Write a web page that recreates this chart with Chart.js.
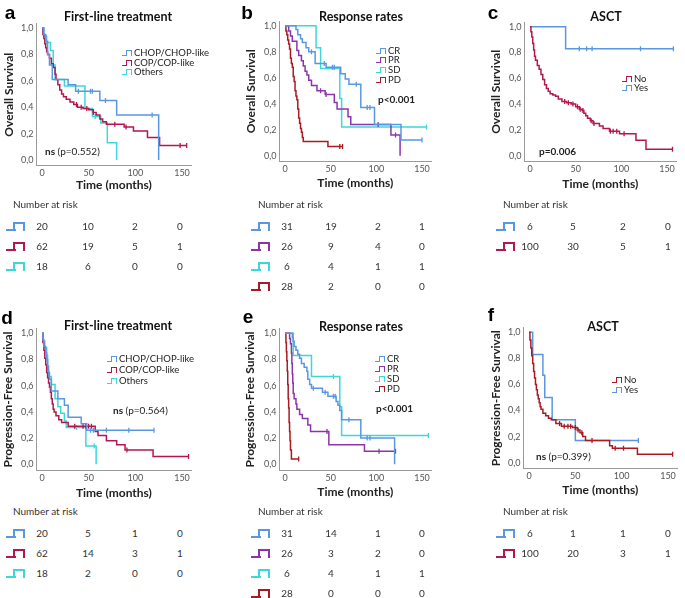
<!DOCTYPE html>
<html>
<head>
<meta charset="utf-8">
<script src="https://cdn.jsdelivr.net/npm/chart.js@4.4.1/dist/chart.umd.min.js"></script>
<style>
  body { margin: 0; background: #fff; font-family: Lato, "Open Sans", sans-serif; }
  #fig { position: relative; width: 685px; height: 598px; overflow: hidden; }
  #fig canvas { position: absolute; }
  .lbl { position: absolute; white-space: nowrap; color: #222; line-height: 1; }
  .letter { font-family: "Liberation Sans", Arial, sans-serif; font-weight: bold; font-size: 19px; color: #000; }
  .title { font-weight: bold; font-size: 12.5px; color: #111; }
  .leg { font-size: 9.5px; color: #222; }
  .pval { font-size: 10px; color: #222; }
  .risk { font-size: 10px; color: #333; }
  .ico { position: absolute; box-sizing: border-box; }
  .ico .foot, .ico .cap { position: absolute; box-sizing: border-box; }
</style>
</head>
<body>
<div id="fig"></div>
<script>
// colours
const BLUE = '#5a97e3', CRIMSON = '#b4174f', RED = '#aa1a22', CYAN = '#3dd7d9', PURPLE = '#8b36a8';

// axis ticks
const xTicks = [0, 50, 100, 150];
const yTicks = [0, 0.2, 0.4, 0.6, 0.8, 1.0];

// a) OS by first-line treatment (time in months, survival, censor times)
const osChopT = [0, 2, 4, 6, 8, 11, 28, 36, 62, 80, 125];
const osChopS = [1, 0.95, 0.9, 0.8, 0.72, 0.61, 0.57, 0.52, 0.45, 0.34, 0];
const osChopC = [39, 52, 54, 68, 118];
const osCopT = [0, 1, 2, 3, 4, 5, 6, 8, 10, 12, 14, 15, 17, 19, 21, 23, 26, 30, 34, 38, 44, 50, 55, 58, 62, 65, 69, 88, 98, 113, 126];
const osCopS = [1, 0.95, 0.92, 0.88, 0.85, 0.82, 0.8, 0.77, 0.73, 0.7, 0.65, 0.61, 0.57, 0.53, 0.5, 0.48, 0.46, 0.44, 0.42, 0.4, 0.39, 0.38, 0.36, 0.34, 0.31, 0.29, 0.27, 0.25, 0.22, 0.17, 0.11];
const osCopC = [37, 42, 48, 55, 78, 90, 148, 155];
const osOthT = [0, 2, 5, 9, 12, 14, 24, 46, 54, 63, 70, 80];
const osOthS = [1, 0.94, 0.89, 0.83, 0.72, 0.61, 0.56, 0.39, 0.33, 0.28, 0.13, 0];
const osOthC = [57];

// b) OS by response
const osCrT = [0, 12, 14, 17, 19, 23, 26, 33, 45, 61, 66, 70, 83, 98, 127];
const osCrS = [1, 0.97, 0.93, 0.9, 0.87, 0.83, 0.8, 0.71, 0.68, 0.63, 0.59, 0.55, 0.37, 0.24, 0.12];
const osCrC = [29, 43, 52, 54, 78, 90, 93, 150];
const osPrT = [0, 4, 6, 8, 13, 15, 18, 20, 22, 24, 26, 29, 35, 44, 54, 57, 69, 72, 116, 126];
const osPrS = [1, 0.96, 0.92, 0.88, 0.81, 0.77, 0.73, 0.69, 0.65, 0.62, 0.58, 0.54, 0.5, 0.47, 0.41, 0.36, 0.3, 0.24, 0.16, 0];
const osPrC = [39, 45, 102, 121];
const osSdT = [0, 34, 39, 60, 62];
const osSdS = [1, 0.83, 0.67, 0.44, 0.22];
const osSdC = [155];
const osPdT = [0, 1, 2, 3, 4, 5, 6, 7, 8, 9, 10, 11, 12, 13, 14, 15, 16, 17, 18, 19, 20, 47];
const osPdS = [1, 0.96, 0.93, 0.89, 0.86, 0.82, 0.75, 0.71, 0.68, 0.61, 0.57, 0.5, 0.46, 0.43, 0.36, 0.29, 0.25, 0.21, 0.18, 0.14, 0.11, 0.07];
const osPdC = [60, 63];

// c) OS by ASCT
const osYesT = [0, 39];
const osYesS = [1, 0.83];
const osYesC = [54, 62, 68, 121, 157];
const osNoT = [0, 1, 2, 3, 4, 5, 6, 8, 10, 12, 14, 16, 18, 20, 22, 25, 28, 31, 35, 40, 45, 50, 54, 57, 59, 61, 63, 66, 69, 76, 80, 87, 98, 116, 127];
const osNoS = [1, 0.96, 0.92, 0.87, 0.82, 0.77, 0.74, 0.7, 0.67, 0.63, 0.59, 0.55, 0.52, 0.5, 0.48, 0.47, 0.46, 0.44, 0.42, 0.41, 0.4, 0.38, 0.36, 0.35, 0.33, 0.31, 0.29, 0.27, 0.25, 0.23, 0.21, 0.19, 0.17, 0.12, 0.05];
const osNoC = [38, 42, 47, 52, 55, 58, 67, 70, 88, 91, 95, 103, 156];

// d) PFS by first-line treatment
const pfsChopT = [0, 1, 2, 4, 5, 6, 7, 8, 10, 17, 24, 28, 42, 48];
const pfsChopS = [1, 0.95, 0.9, 0.85, 0.8, 0.75, 0.7, 0.65, 0.56, 0.5, 0.45, 0.36, 0.31, 0.26];
const pfsChopC = [52, 55, 69, 93, 120];
const pfsCopT = [0, 1, 2, 3, 4, 5, 6, 7, 8, 9, 10, 11, 12, 13, 15, 18, 21, 28, 57, 60, 69, 80, 89, 119];
const pfsCopS = [1, 0.93, 0.87, 0.81, 0.76, 0.7, 0.66, 0.62, 0.59, 0.55, 0.5, 0.46, 0.42, 0.4, 0.37, 0.34, 0.32, 0.29, 0.25, 0.22, 0.18, 0.15, 0.11, 0.06];
const pfsCopC = [35, 44, 47, 50, 53, 91, 157];
const pfsOthT = [0, 1, 3, 5, 6, 7, 10, 14, 17, 20, 24, 26, 47, 58];
const pfsOthS = [1, 0.94, 0.89, 0.83, 0.72, 0.67, 0.61, 0.5, 0.44, 0.39, 0.33, 0.28, 0.14, 0];
const pfsOthC = [37, 56];

// e) PFS by response
const pfsCrT = [0, 8, 9, 10, 12, 14, 16, 18, 21, 24, 25, 27, 29, 41, 47, 56, 58, 60, 62, 83, 120];
const pfsCrS = [1, 0.97, 0.94, 0.9, 0.87, 0.84, 0.81, 0.77, 0.74, 0.71, 0.65, 0.61, 0.58, 0.55, 0.52, 0.48, 0.45, 0.41, 0.34, 0.2, 0];
const pfsCrC = [31, 44, 53, 55, 70, 90, 93];
const pfsPrT = [0, 5, 6, 7, 7.5, 8, 8.5, 9, 10, 12, 13, 16, 19, 25, 28, 48, 87];
const pfsPrS = [1, 0.96, 0.92, 0.85, 0.77, 0.69, 0.62, 0.54, 0.5, 0.46, 0.42, 0.38, 0.35, 0.3, 0.25, 0.15, 0.1];
const pfsPrC = [46, 103, 121];
const pfsSdT = [0, 9, 29, 60, 62];
const pfsSdS = [1, 0.83, 0.67, 0.44, 0.22];
const pfsSdC = [53, 157];
const pfsPdT = [0, 1, 1.5, 2, 2.5, 3, 3.5, 4, 4.5, 5, 5.5, 6, 7];
const pfsPdS = [1, 0.93, 0.86, 0.79, 0.71, 0.61, 0.5, 0.43, 0.32, 0.25, 0.18, 0.11, 0.04];
const pfsPdC = [15];

// f) PFS by ASCT
const pfsYesT = [0, 4, 15, 17, 25, 50];
const pfsYesS = [1, 0.83, 0.67, 0.5, 0.33, 0.17];
const pfsYesC = [118];
const pfsNoT = [0, 1, 2, 3, 4, 5, 6, 7, 8, 9, 10, 11, 12, 13, 15, 18, 21, 24, 29, 35, 47, 52, 55, 58, 61, 87, 90, 117];
const pfsNoS = [1, 0.94, 0.88, 0.82, 0.76, 0.7, 0.65, 0.6, 0.56, 0.52, 0.49, 0.46, 0.43, 0.41, 0.38, 0.36, 0.34, 0.33, 0.3, 0.28, 0.27, 0.25, 0.23, 0.2, 0.17, 0.13, 0.11, 0.065];
const pfsNoC = [33, 38, 42, 45, 50, 53, 57, 68, 93, 102, 155];

// numbers at risk (at 0, 50, 100, 150 months)
const riskOsChop = [20, 10, 2, 0], riskOsCop = [62, 19, 5, 1], riskOsOth = [18, 6, 0, 0];
const riskOsCr = [31, 19, 2, 1], riskOsPr = [26, 9, 4, 0], riskOsSd = [6, 4, 1, 1], riskOsPd = [28, 2, 0, 0];
const riskOsYes = [6, 5, 2, 0], riskOsNo = [100, 30, 5, 1];
const riskPfsChop = [20, 5, 1, 0], riskPfsCop = [62, 14, 3, 1], riskPfsOth = [18, 2, 0, 0];
const riskPfsCr = [31, 14, 1, 0], riskPfsPr = [26, 3, 2, 0], riskPfsSd = [6, 4, 1, 1], riskPfsPd = [28, 0, 0, 0];
const riskPfsYes = [6, 1, 1, 0], riskPfsNo = [100, 20, 3, 1];

const X_MIN = -6, X_MAX = 160, Y_MIN = -0.045, Y_MAX = 1.035;
Chart.defaults.font.family = 'Lato, "Open Sans", sans-serif';

const fig = document.getElementById('fig');

function addText(html, x, y, cls, center) {
  const d = document.createElement('div');
  d.className = 'lbl ' + cls;
  d.innerHTML = html;
  d.style.left = x + 'px';
  d.style.top = y + 'px';
  d.style.transform = center ? 'translate(-50%,-50%)' : 'translateY(-50%)';
  fig.appendChild(d);
}

// little step-shaped key like the SPSS legend
function addIcon(x, y, w, h, lw, color) {
  const d = document.createElement('div');
  d.className = 'ico';
  d.style.cssText = `left:${x}px;top:${y - h / 2}px;width:${w}px;height:${h}px;`;
  const foot = document.createElement('div');
  foot.className = 'foot';
  foot.style.cssText = `left:0;bottom:0;width:${w * 0.45 + lw / 2}px;border-bottom:${lw}px solid ${color};`;
  const cap = document.createElement('div');
  cap.className = 'cap';
  cap.style.cssText = `left:${w * 0.45 - lw / 2}px;top:0;right:0;bottom:0;border:${lw}px solid ${color};border-bottom:none;`;
  d.appendChild(foot);
  d.appendChild(cap);
  fig.appendChild(d);
}

function survAt(T, S, t) {
  let v = S[0];
  for (let i = 0; i < T.length; i++) if (T[i] <= t) v = S[i];
  return v;
}

function curvePoints(T, S, C) {
  const pts = T.map((t, i) => ({ x: t, y: S[i] }));
  const end = Math.max(T[T.length - 1], ...C);
  if (end > T[T.length - 1]) pts.push({ x: end, y: S[S.length - 1] });
  return pts;
}

const panels = [
  { letter: 'a', lx: 10, ly: 12, left: 0, top: 0, x0: 42, x150: 182, y1: 28, y0: 160, yTitle: 'Overall Survival', yTitleX: 9, xTitleY: 185,
    title: 'First-line treatment', tx: 118, ty: 17,
    series: [[osChopT, osChopS, osChopC, BLUE], [osCopT, osCopS, osCopC, CRIMSON], [osOthT, osOthS, osOthC, CYAN]],
    legend: { x: 122, ys: [53, 62.5, 72], names: ['CHOP/CHOP-like', 'COP/COP-like', 'Others'], colors: [BLUE, CRIMSON, CYAN] },
    pv: { html: '<b>ns</b> (p=0.552)', x: 45, y: 151 },
    risk: { x: 6, top: 204, rows: [riskOsChop, riskOsCop, riskOsOth], colors: [BLUE, CRIMSON, CYAN], cols: [42, 88, 135, 180] } },
  { letter: 'b', lx: 247, ly: 12, left: 228, top: 0, x0: 285, x150: 422, y1: 25.7, y0: 155.7, yTitle: 'Overall Survival', yTitleX: 251, xTitleY: 183,
    title: 'Response rates', tx: 361, ty: 17,
    series: [[osCrT, osCrS, osCrC, BLUE], [osPrT, osPrS, osPrC, PURPLE], [osSdT, osSdS, osSdC, CYAN], [osPdT, osPdS, osPdC, RED]],
    legend: { x: 376, ys: [50.7, 60.3, 70, 79.7], names: ['CR', 'PR', 'SD', 'PD'], colors: [BLUE, PURPLE, CYAN, RED] },
    pv: { html: '<b>p&lt;0.001</b>', x: 378, y: 99 },
    risk: { x: 251, top: 204, rows: [riskOsCr, riskOsPr, riskOsSd, riskOsPd], colors: [BLUE, PURPLE, CYAN, RED], cols: [287, 331, 378, 422] } },
  { letter: 'c', lx: 493, ly: 12, left: 456, top: 0, x0: 530, x150: 667, y1: 26.7, y0: 155.7, yTitle: 'Overall Survival', yTitleX: 496, xTitleY: 184,
    title: 'ASCT', tx: 606, ty: 17,
    series: [[osNoT, osNoS, osNoC, CRIMSON], [osYesT, osYesS, osYesC, BLUE]],
    legend: { x: 622, ys: [79, 87.7], names: ['No', 'Yes'], colors: [CRIMSON, BLUE] },
    pv: { html: '<b>p=0.006</b>', x: 539, y: 151 },
    risk: { x: 496, top: 204, rows: [riskOsYes, riskOsNo], colors: [BLUE, CRIMSON], cols: [530, 573, 623, 668] } },
  { letter: 'd', lx: 7, ly: 317, left: 0, top: 300, x0: 42, x150: 182, y1: 333.3, y0: 464.3, yTitle: 'Progression-Free Survival', yTitleX: 8, xTitleY: 493,
    title: 'First-line treatment', tx: 118, ty: 326,
    series: [[pfsChopT, pfsChopS, pfsChopC, BLUE], [pfsCopT, pfsCopS, pfsCopC, CRIMSON], [pfsOthT, pfsOthS, pfsOthC, CYAN]],
    legend: { x: 107, ys: [359.3, 370, 380.7], names: ['CHOP/CHOP-like', 'COP/COP-like', 'Others'], colors: [BLUE, CRIMSON, CYAN] },
    pv: { html: '<b>ns</b> (p=0.564)', x: 113, y: 410 },
    risk: { x: 6, top: 511, rows: [riskPfsChop, riskPfsCop, riskPfsOth], colors: [BLUE, CRIMSON, CYAN], cols: [42, 88, 135, 180] } },
  { letter: 'e', lx: 248, ly: 316, left: 228, top: 300, x0: 285, x150: 422, y1: 333.3, y0: 464.3, yTitle: 'Progression-Free Survival', yTitleX: 250, xTitleY: 492,
    title: 'Response rates', tx: 361, ty: 327,
    series: [[pfsCrT, pfsCrS, pfsCrC, BLUE], [pfsPrT, pfsPrS, pfsPrC, PURPLE], [pfsSdT, pfsSdS, pfsSdC, CYAN], [pfsPdT, pfsPdS, pfsPdC, RED]],
    legend: { x: 375, ys: [359.3, 369, 379, 389.3], names: ['CR', 'PR', 'SD', 'PD'], colors: [BLUE, PURPLE, CYAN, RED] },
    pv: { html: '<b>p&lt;0.001</b>', x: 376, y: 408 },
    risk: { x: 251, top: 511, rows: [riskPfsCr, riskPfsPr, riskPfsSd, riskPfsPd], colors: [BLUE, PURPLE, CYAN, RED], cols: [287, 331, 378, 422] } },
  { letter: 'f', lx: 491, ly: 314, left: 456, top: 300, x0: 529, x150: 668, y1: 332.3, y0: 462.7, yTitle: 'Progression-Free Survival', yTitleX: 496, xTitleY: 490,
    title: 'ASCT', tx: 603, ty: 327,
    series: [[pfsNoT, pfsNoS, pfsNoC, RED], [pfsYesT, pfsYesS, pfsYesC, BLUE]],
    legend: { x: 612, ys: [380, 390], names: ['No', 'Yes'], colors: [RED, BLUE] },
    pv: { html: '<b>ns</b> (p=0.399)', x: 536, y: 456 },
    risk: { x: 496, top: 511, rows: [riskPfsYes, riskPfsNo], colors: [BLUE, CRIMSON], cols: [530, 573, 623, 668] } }
];

const W = 228, H = 200;
const TITLE_LH = 12 * 1.2;

panels.forEach(p => {
  const kx = (p.x150 - p.x0) / 150, ky = p.y0 - p.y1;
  const left = p.x0 + X_MIN * kx - p.left;
  const right = p.x0 + X_MAX * kx - p.left;
  const top = p.y1 - (Y_MAX - 1) * ky - p.top;
  const bottom = p.y0 - Y_MIN * ky - p.top;

  const cv = document.createElement('canvas');
  cv.width = W; cv.height = H;
  cv.style.left = p.left + 'px';
  cv.style.top = p.top + 'px';
  fig.appendChild(cv);

  const datasets = [];
  p.series.forEach(([T, S, C, color]) => {
    datasets.push({
      data: curvePoints(T, S, C), borderColor: color, borderWidth: 1.5,
      stepped: 'before', pointRadius: 0, fill: false
    });
    datasets.push({
      data: C.map(t => ({ x: t, y: survAt(T, S, t) })), showLine: false,
      pointStyle: 'line', rotation: 90, pointRadius: 2.5, borderColor: color, borderWidth: 1.3
    });
  });

  new Chart(cv, {
    type: 'line',
    data: { datasets },
    options: {
      responsive: false, animation: false, devicePixelRatio: 1,
      layout: { autoPadding: false, padding: { left: 0, top: top, right: W - right, bottom: 0 } },
      plugins: { legend: { display: false }, tooltip: { enabled: false } },
      scales: {
        x: {
          type: 'linear', min: X_MIN, max: X_MAX,
          afterFit: s => { s.height = H - bottom; },
          afterBuildTicks: s => { s.ticks = xTicks.map(v => ({ value: v })); },
          grid: { display: false, drawTicks: false },
          border: { display: true, color: '#9a9a9a', width: 1 },
          ticks: { font: { size: 9 }, color: '#555', padding: 2, maxRotation: 0, callback: v => String(v) },
          title: {
            display: true, text: 'Time (months)', color: '#222',
            font: { size: 12, weight: 'bold' },
            padding: { top: 0, bottom: H - TITLE_LH / 2 - (p.xTitleY - p.top) }
          }
        },
        y: {
          min: Y_MIN, max: Y_MAX,
          afterFit: s => { s.width = left; },
          afterBuildTicks: s => { s.ticks = yTicks.map(v => ({ value: v })); },
          grid: { display: false, drawTicks: false },
          border: { display: true, color: '#9a9a9a', width: 1 },
          ticks: { font: { size: 9 }, color: '#555', padding: 3, callback: v => v.toFixed(1).replace('.', ',') },
          title: {
            display: true, text: p.yTitle, color: '#222',
            font: { size: 12, weight: 'bold' },
            padding: { top: (p.yTitleX - p.left) - TITLE_LH / 2, bottom: 0 }
          }
        }
      }
    }
  });

  // panel letter, title, legend, p value
  addText(p.letter, p.lx, p.ly, 'letter', true);
  addText(p.title, p.tx, p.ty, 'title', true);
  p.legend.names.forEach((n, i) => {
    addIcon(p.legend.x, p.legend.ys[i], 10, 6, 1.5, p.legend.colors[i]);
    addText(n, p.legend.x + 12, p.legend.ys[i], 'leg', false);
  });
  addText(p.pv.html, p.pv.x, p.pv.y, 'pval', false);

  // number at risk table
  const r = p.risk;
  addText('Number at risk', r.x + 7, r.top, 'risk', false);
  r.rows.forEach((row, i) => {
    const y = r.top + 22 + i * 20;
    addIcon(r.x, y, 19, 9, 2.4, r.colors[i]);
    row.forEach((v, j) => addText(String(v), r.cols[j], y, 'risk', true));
  });
});
</script>
</body>
</html>
